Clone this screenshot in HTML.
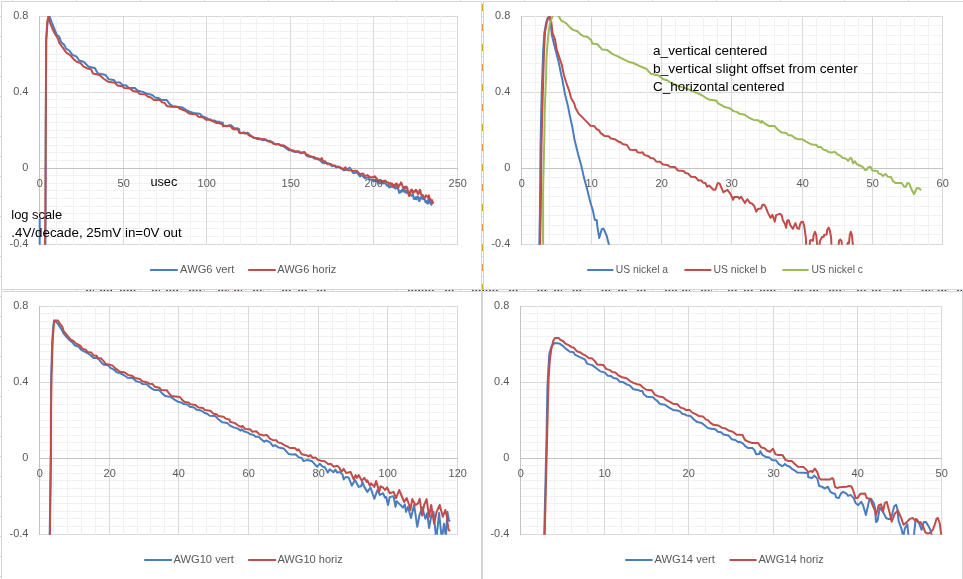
<!DOCTYPE html>
<html lang="en"><head><meta charset="utf-8"><title>Decay curves</title>
<style>html,body{margin:0;padding:0;background:#fff;overflow:hidden}svg{display:block}text{font-family:"Liberation Sans", sans-serif}</style>
</head><body>
<svg width="963" height="579" viewBox="0 0 963 579">
<rect width="963" height="579" fill="#fff"/>
<path d="M12.5 0V1M12.5 290V291M76.5 0V1M76.5 290V291M140.5 0V1M140.5 290V291M204.5 0V1M204.5 290V291M268.5 0V1M268.5 290V291M332.5 0V1M332.5 290V291M396.5 0V1M396.5 290V291M460.5 0V1M460.5 290V291M524.5 0V1M524.5 290V291M588.5 0V1M588.5 290V291M652.5 0V1M652.5 290V291M716.5 0V1M716.5 290V291M780.5 0V1M780.5 290V291M844.5 0V1M844.5 290V291M908.5 0V1M908.5 290V291M0 16.5H1M482 16.5H483M0 36.5H1M482 36.5H483M0 56.5H1M482 56.5H483M0 76.5H1M482 76.5H483M0 96.5H1M482 96.5H483M0 116.5H1M482 116.5H483M0 136.5H1M482 136.5H483M0 156.5H1M482 156.5H483M0 176.5H1M482 176.5H483M0 196.5H1M482 196.5H483M0 216.5H1M482 216.5H483M0 236.5H1M482 236.5H483M0 256.5H1M482 256.5H483M0 276.5H1M482 276.5H483M0 296.5H1M0 316.5H1M0 336.5H1M0 356.5H1M0 376.5H1M0 396.5H1M0 416.5H1M0 436.5H1M0 456.5H1M0 476.5H1M0 496.5H1M0 516.5H1M0 536.5H1M0 556.5H1M0 576.5H1" stroke="#D4D4D4" fill="none"/>
<path d="M1.5 290V1.5H481.5V289.5H1M964 1.5H483.5V289.5H964M1.5 580V291.5H481.5V580M482.5 580V291.5H962.5V580" stroke="#D4D4D4" fill="none"/>
<path d="M482.5 4V290" stroke="#E9A13B" stroke-width="1.1" stroke-dasharray="7 13" fill="none"/>
<path d="M86 290.5H94M100 290.5H112.6M120 290.5H137M152 290.5H160M166 290.5H178M189 290.5H201M218 290.5H229M234 290.5H242M253 290.5H263.5M282 290.5H292M298 290.5H306.6M317 290.5H327M408 290.5H434M445 290.5H455M472 290.5H498M509 290.5H519M537.5 290.5H548M554 290.5H562M572.6 290.5H583M601.6 290.5H612M618 290.5H626.6M637 290.5H647M665 290.5H676.7M682 290.5H690M701 290.5H712M728 290.5H738M744 290.5H752.5M760 290.5H777M794 290.5H804.6M809.6 290.5H818M829 290.5H841.6M857 290.5H867M872 290.5H882M893 290.5H903M921.7 290.5H932.7M937.7 290.5H946.5M957 290.5H963" stroke="#A8601E" stroke-dasharray="1.1 2.3" fill="none"/>
<path d="M86 290.5H94M100 290.5H112.6M120 290.5H137M152 290.5H160M166 290.5H178M189 290.5H201M218 290.5H229M234 290.5H242M253 290.5H263.5M282 290.5H292M298 290.5H306.6M317 290.5H327M408 290.5H434M445 290.5H455M472 290.5H498M509 290.5H519M537.5 290.5H548M554 290.5H562M572.6 290.5H583M601.6 290.5H612M618 290.5H626.6M637 290.5H647M665 290.5H676.7M682 290.5H690M701 290.5H712M728 290.5H738M744 290.5H752.5M760 290.5H777M794 290.5H804.6M809.6 290.5H818M829 290.5H841.6M857 290.5H867M872 290.5H882M893 290.5H903M921.7 290.5H932.7M937.7 290.5H946.5M957 290.5H963" stroke="#1C1C70" stroke-dasharray="1 2.4" stroke-dashoffset="-0.7" fill="none"/>
<clipPath id="c1"><rect x="37.5" y="16" width="422" height="228.7"/></clipPath>
<path d="M39 16.5H458M39 92.5H458M39 244.5H458" stroke="#D9D9D9" fill="none"/>
<path d="M39.5 23.5H457.5M39.5 31.5H457.5M39.5 38.5H457.5M39.5 46.5H457.5M39.5 54.5H457.5M39.5 61.5H457.5M39.5 69.5H457.5M39.5 76.5H457.5M39.5 84.5H457.5M39.5 99.5H457.5M39.5 107.5H457.5M39.5 114.5H457.5M39.5 122.5H457.5M39.5 130.5H457.5M39.5 137.5H457.5M39.5 145.5H457.5M39.5 152.5H457.5M39.5 160.5H457.5M39.5 175.5H457.5M39.5 183.5H457.5M39.5 190.5H457.5M39.5 198.5H457.5M39.5 206.5H457.5M39.5 213.5H457.5M39.5 221.5H457.5M39.5 228.5H457.5M39.5 236.5H457.5" stroke="#F1F1F1" fill="none"/>
<path d="M123.5 16V245M206.5 16V245M290.5 16V245M373.5 16V245M457.5 16V245" stroke="#D9D9D9" fill="none"/>
<path d="M56.5 16V245M73.5 16V245M89.5 16V245M106.5 16V245M139.5 16V245M156.5 16V245M173.5 16V245M190.5 16V245M223.5 16V245M240.5 16V245M256.5 16V245M273.5 16V245M307.5 16V245M323.5 16V245M340.5 16V245M357.5 16V245M390.5 16V245M407.5 16V245M424.5 16V245M440.5 16V245" stroke="#F1F1F1" fill="none"/>
<path d="M39.5 16V245M39.5 168.5H458" stroke="#C3C3C3" fill="none"/>
<path d="M39.7 218.6L39.7 300L45.2 300L45.5 215L45.8 120L46.2 40L47.6 22L49.5 16.3L51.8 22.5L54.3 28.7L56.8 34.9L59.3 36.8L61.2 42.4L64.3 44.9L66.1 48.6L69.3 50.5L72.4 54.9L76.7 56.7L79.2 60.5L83.6 61.7L88.6 66.7L94.8 68L97.9 73.6L100 73.7L105.6 75L108.7 79.3L113.7 79.9L115.6 82.2L119.9 82.4L122.4 84.9L126.2 85.5L128.7 87.7L134.9 88L137.4 90.5L143.6 92.1L146.1 93.6L152.3 94.9L154.8 97.4L158.6 98L161.1 99.9L166.7 100.1L169.8 104.2L172.3 105.9L177.3 106.7L182.2 107.4L186 109.8L189.7 111.7L193.5 113L199.7 113.8L202.2 116.3L205.9 117.6L208.8 119.3L210.6 119.5L212.3 120.6L214.1 120.5L215.8 121.2L217.6 121.8L219.3 121.8L221.1 122.6L222.8 122.7L223.1 126.3L225.1 125.8L227.1 126.2L229.2 125.3L231.2 125.3L233.6 127.6L235.4 128.4L237.2 128.2L239 128.9L239.7 132.9L241.7 133.3L243.8 132.5L245.8 133.1L247.8 132.8L250.4 135.4L253.6 137.9L255.5 138L257.3 139.2L259.2 139.3L261 139.3L262.9 140.3L264.7 139.7L266.5 140.5L268 141.1L269.5 140.6L271 141.4L274.2 143.4L276.1 144.4L277.9 144L279.8 145L281.3 146L282.8 146L284.3 146.9L287.1 149L289 150.3L290.9 150.1L292.8 151.4L295 152L297.2 151.8L298.7 152L300.2 153.1L301.7 153.2L303.5 152.6L305.3 153L306.3 155.5L308.4 156.5L310.6 156.2L312.7 157.5L314.7 158.7L316.6 158.5L318.6 159.5L320 160.3L322.5 162.8L324.2 163.3L326 162.7L328 163.3L330 164.7L332.1 166.3L334.1 165.8L336.2 167.4L339 166.7L340.6 168.4L342.1 168.5L343.7 170.2L346.5 169.7L349.9 167.7L351.8 171.1L353.6 173.3L356 172.2L357.9 173.7L359.9 176.5L362 175.2L364.9 178.3L368 177.2L369.9 179.4L371.7 179.7L373.6 181.4L374.4 180.4L375.2 181.1L376 179.7L376.6 180.1L377.3 182L377.9 182.1L378.5 182.1L379.2 183.5L379.8 183.4L380.6 182.2L381.4 183.6L382.2 182.1L383 182.7L383.8 183.5L384.6 182.9L385.4 183.2L386.3 184.9L387.1 185.9L387.9 185.3L388.5 185.3L389.2 187.6L389.8 187.2L390.5 186.1L391.3 186.9L392 185.7L392.7 185.7L393.4 187.5L394.1 186.4L394.8 187.8L395.5 188.7L396.3 186.2L397 186.7L397.7 188.9L398.4 189L399.1 192.7L399.8 192.8L400.6 191.1L401.4 191.9L402.2 189.7L402.8 189.1L403.4 191.6L404 190.7L404.7 190L405.3 192.5L406 191.5L406.6 190.7L407.2 193.3L407.9 192.4L408.5 191.6L409.1 195.1L409.7 194.6L410.5 194L411.4 195.8L412.2 195.3L413 194.9L413.9 199L414.7 199L415.5 197.2L416.4 199.1L417.2 196.5L418 196.6L418.9 201L419.7 200.9L420.3 197.5L421 198.7L421.6 195.9L422.4 195.5L423.1 199.3L423.9 197.3L424.7 199L425.5 202.2L426.4 201L427.2 203.4L427.8 203.6L428.4 198.8L429 199L429.6 202.8L430.3 200.5L430.9 204.2L431.5 204.8L432.2 201.3L432.8 201.5" fill="none" stroke="#4A7DBF" stroke-width="2.0" stroke-linejoin="round" stroke-linecap="butt" clip-path="url(#c1)"/>
<path d="M45 246L45.4 215L45.8 120L46.2 40L47.2 22L48.3 16.6L49.9 22.5L52.4 28.7L54.9 33.7L58 38.7L59.3 43L62.6 47.4L66.1 52.4L70.5 55.5L73.6 59.2L76.7 61.7L80.5 63L83.6 66.7L86.7 68.2L91.1 69.2L92.9 73.6L98.5 74.8L100 75.6L103.7 78.7L108.1 81.8L115 82.7L117.4 85.5L122.4 86.2L124.3 88L129.9 88.4L133 90.9L137.4 91.8L139.9 93.9L144.9 94.3L148 96.8L151.1 97.4L153.6 99.9L159.8 100.1L162.3 102.4L164.8 103L166.7 105.9L171 106.7L177.9 107.1L179.8 108.8L184.7 110.5L187.2 112.1L189.7 113.8L195.9 114.2L198.4 116.7L203.4 117.6L205.9 119.8L207.9 119.6L210 119.9L211.7 121L213.3 121.2L215 122.4L216.7 123.1L218.4 122.7L220.1 123.7L221.8 123.7L223.1 125.9L225 125.8L226.8 126.3L228.7 125.7L230.6 126.2L232.4 128.7L234.3 129.4L236.1 129L238 129.7L239.3 132.6L241.2 133L243.1 132.7L244.9 133.5L246.8 133.4L249.9 135.9L251.8 136.3L253.6 137.4L255.7 138.2L257.7 138L259.8 138.6L261.9 139.2L264 139L266.1 139.6L268 141.2L269.8 141.7L271.7 142.3L273.6 143.9L275.7 144.4L277.7 143.9L279.8 144.6L281.5 145.4L283.1 145.2L284.8 146.1L287.9 148L290 149.5L292.2 150.5L293.9 150.5L295.5 151.6L297.2 151.3L298.9 151.4L300.5 152.5L302.2 152.6L304.7 152.1L306 154.8L308.1 154.8L310.1 156.7L312.2 156.7L314.3 157L316.3 158.6L318.4 158.6L320 159.9L321.9 158.1L323.1 161.8L325 161.2L327.5 164.3L329.4 163.8L331.2 164.3L333.1 165.5L335 165.5L336.2 166.8L338 166.6L339.9 167.2L343.1 169.3L345.5 167.2L346.8 169.9L349 170.6L351.2 169.9L353 171.2L355.2 170.6L357.4 171.2L359.9 174.3L363 173.4L364.9 176.1L367.4 175.1L369.8 177.1L372.3 177.4L373.1 176.8L373.9 177.5L374.7 176.3L375.5 176.8L376.1 178.2L376.7 178.2L377.3 179.9L378.1 181.2L379 181.3L379.8 180.4L380.6 180.3L381.5 181.7L382.3 181.7L383.1 180.9L384 181.6L384.8 180.5L385.6 180.7L386.5 182.4L387.3 182.6L388 182.2L388.8 184.2L389.5 183.5L390.2 182.9L391 184.1L391.7 183.4L392.3 183.6L392.9 186.8L393.5 186.7L394.3 184.7L395.2 185.4L396 183.6L396.8 183.6L397.7 186.7L398.5 187.4L399.3 184.5L400.2 184.8L401 182.4L401.8 183.6L402.7 186.8L403.5 188L404.1 186.9L404.7 188.7L405.4 187.1L406 186.5L406.6 188.4L407.2 187.4L409.1 196.1L411 189.8L411.8 189.6L412.7 192.9L413.5 193L414.3 190.8L415.1 191.6L415.9 189.8L416.7 190.5L417.6 193.6L418.4 194.2L419.7 189.8L420.3 190.1L421 194.3L421.6 194.8L422.5 194.7L423.4 196.7L424.2 198.2L425.1 197.1L425.9 195.3L426.7 196L427.6 197.2L428.4 196.3L429 195.4L429.7 199.4L430.3 198.6L431.5 201.1L432.1 200.2L432.8 203L433.4 201.7" fill="none" stroke="#C04D4A" stroke-width="2.0" stroke-linejoin="round" stroke-linecap="butt" clip-path="url(#c1)"/>
<text x="13.21" y="19" font-size="10.9" fill="#595959" textLength="15.19" lengthAdjust="spacingAndGlyphs">0.8</text>
<text x="13.21" y="95" font-size="10.9" fill="#595959" textLength="15.19" lengthAdjust="spacingAndGlyphs">0.4</text>
<text x="22.32" y="171" font-size="10.9" fill="#595959" textLength="6.08" lengthAdjust="spacingAndGlyphs">0</text>
<text x="9.53" y="247" font-size="10.9" fill="#595959" textLength="18.87" lengthAdjust="spacingAndGlyphs">-0.4</text>
<text x="36.66" y="186.8" font-size="10.9" fill="#595959" textLength="6.08" lengthAdjust="spacingAndGlyphs">0</text>
<text x="117.62" y="186.8" font-size="10.9" fill="#595959" textLength="12.16" lengthAdjust="spacingAndGlyphs">50</text>
<text x="197.58" y="186.8" font-size="10.9" fill="#595959" textLength="18.25" lengthAdjust="spacingAndGlyphs">100</text>
<text x="281.58" y="186.8" font-size="10.9" fill="#595959" textLength="18.25" lengthAdjust="spacingAndGlyphs">150</text>
<text x="364.58" y="186.8" font-size="10.9" fill="#595959" textLength="18.25" lengthAdjust="spacingAndGlyphs">200</text>
<text x="448.58" y="186.8" font-size="10.9" fill="#595959" textLength="18.25" lengthAdjust="spacingAndGlyphs">250</text>
<path d="M150.8 270H177" stroke="#4A7DBF" stroke-width="2" stroke-linecap="round"/>
<text x="180.10" y="272.8" font-size="10.9" fill="#595959" textLength="54.19" lengthAdjust="spacingAndGlyphs">AWG6 vert</text>
<path d="M248.9 270H275" stroke="#C04D4A" stroke-width="2" stroke-linecap="round"/>
<text x="277.20" y="272.8" font-size="10.9" fill="#595959" textLength="59.14" lengthAdjust="spacingAndGlyphs">AWG6 horiz</text>
<clipPath id="c2"><rect x="519.5" y="16" width="425" height="228.7"/></clipPath>
<path d="M521 16.5H943M521 92.5H943M521 244.5H943" stroke="#D9D9D9" fill="none"/>
<path d="M521.5 25.5H942.5M521.5 35.5H942.5M521.5 44.5H942.5M521.5 54.5H942.5M521.5 63.5H942.5M521.5 73.5H942.5M521.5 82.5H942.5M521.5 101.5H942.5M521.5 111.5H942.5M521.5 120.5H942.5M521.5 130.5H942.5M521.5 139.5H942.5M521.5 149.5H942.5M521.5 158.5H942.5M521.5 177.5H942.5M521.5 187.5H942.5M521.5 196.5H942.5M521.5 206.5H942.5M521.5 215.5H942.5M521.5 225.5H942.5M521.5 234.5H942.5" stroke="#F1F1F1" fill="none"/>
<path d="M591.5 16V245M661.5 16V245M731.5 16V245M802.5 16V245M872.5 16V245M942.5 16V245" stroke="#D9D9D9" fill="none"/>
<path d="M535.5 16V245M549.5 16V245M563.5 16V245M577.5 16V245M605.5 16V245M619.5 16V245M633.5 16V245M647.5 16V245M675.5 16V245M689.5 16V245M703.5 16V245M717.5 16V245M745.5 16V245M759.5 16V245M774.5 16V245M788.5 16V245M816.5 16V245M830.5 16V245M844.5 16V245M858.5 16V245M886.5 16V245M900.5 16V245M914.5 16V245M928.5 16V245" stroke="#F1F1F1" fill="none"/>
<path d="M521.5 16V245M521.5 168.5H943" stroke="#C3C3C3" fill="none"/>
<path d="M539.3 246L539.9 212L540.5 147L541.2 112L541.9 87L542.5 70L543.2 50L544.4 32.4L546.2 22.5L547.6 18.1L549.3 16.7L550.5 21.2L551.8 35L554.9 47.4L558.7 62.3L561.2 74.8L562.4 80L564.9 93.7L568 106.2L569.9 116.1L572.4 127.3L574.6 140L578 153.7L581.1 164.9L584.2 178.6L587.3 189.8L590.4 202.5L592.9 210.6L594.8 219.9L596.7 219.9L597.3 226.1L599.2 238L601.7 229.3L603.5 228.6L606.6 235.5L609.3 246" fill="none" stroke="#4A7DBF" stroke-width="2.0" stroke-linejoin="round" stroke-linecap="butt" clip-path="url(#c2)"/>
<path d="M540.1 246L540.8 212L541.5 147L542.3 112L543 87L543.5 70L544.1 50L545 32.4L546.8 22.5L548.1 18.1L549.9 16.9L551.2 21.2L552.6 33L554.9 39L556.8 49.9L559.3 57.4L561.8 64.8L563.9 75L566.2 82.5L569.3 91.2L571.1 98.1L574.3 103.7L575.5 108L578.6 113.6L582.4 117.4L587.3 122.4L590.5 125.8L594.2 126.1L596.7 129.2L599.2 130.5L600.4 132.9L604.8 136.1L608.5 136.3L611 138.6L614.7 139.2L619.7 142.3L620 141.8L622.5 144L626.9 145L630 149.7L636.2 149.9L637.4 152.2L640.6 152.7L642.4 152.2L644.3 154.9L648.7 156.2L650.5 158L653.6 158.4L656.1 161.4L659.9 161.8L663 164.6L667.4 164.9L669.8 166.8L674.8 166.9L677.9 170.5L683.6 170.9L685.4 173L687.9 173.4L691 176.7L695.4 177.1L698.5 180.5L701.6 180.5L702.6 182.4L705.4 183L707.2 186.7L709.1 185.5L713.5 189.8L715.3 189.8L717.8 183L719.7 183.6L723.4 192.3L725 191.1L727.5 189.8L730.6 194.2L733.1 199.8L734.3 196.9L738.1 196.9L739.3 198.6L741.2 196.7L744.9 202.9L747.4 199.2L749.9 202.9L751.8 203.5L754.3 206L756.2 211.6L758 208.9L761.1 208.5L762.4 204.8L764.3 204.8L765.5 206.7L768 212.9L770.5 217.9L772.4 214.8L774.8 221.6L776.1 215.1L779.8 213.9L781.7 215.1L782.9 220.4L784.8 223.5L786.1 227.8L787.3 220.4L788.6 220.1L790.4 225.4L792.9 228.8L795.4 223.1L797.3 228.5L799.1 228.8L800 224.5L801.2 222L802.9 221.8L804.2 225.8L805.8 237.4L806.4 250L809.4 250L810 240.7L810.8 239.9L812.9 240.9L813.7 234.9L815 231.8L816.2 234.9L817.6 250L818.9 250L819.9 241.1L822 237L823.7 236.7L824.1 234.9L826.6 234.5L827.2 229.9L828.7 227.6L829.9 230.8L831.1 237.4L831.6 250L838.4 250L839 240.7L840.3 239.5L841.5 241.1L842.7 250L846.3 250L847.8 242.8L849 243.2L849.8 234.9L850.8 231.8L851.9 234.9L853.4 250" fill="none" stroke="#C04D4A" stroke-width="2.0" stroke-linejoin="round" stroke-linecap="butt" clip-path="url(#c2)"/>
<path d="M543.1 246L543.1 190L544.3 140L544.7 112L545.6 87.5L546.2 75L546.4 59.8L547.4 44.9L548.7 31.2L549.9 23.7L551.8 18.1L553.3 15L556 13.5L558.7 16.2L561.2 20.6L566.1 23.1L569.9 27.4L573 29.9L577.4 31.2L581.1 34.9L583.6 36.2L587.3 36.8L591.1 39.9L592.3 43.6L597.3 44.3L602.3 49.6L607.3 50.1L612.2 53.9L617.2 56.1L622.2 58.6L628.4 61.7L633.4 63L638.4 65.5L640 66.2L646.2 68.7L650.6 73.7L658.7 75.5L663.1 79.3L666.8 80.2L671.2 83L677.4 85.5L682.4 87.4L687.4 88.9L692.3 91.1L698.6 93.6L702.3 95.5L706 98L709.8 99.8L716 100.5L718.5 103.6L722.2 105.5L724.7 107.1L729.1 107.9L733.5 111.1L737.2 112.1L739.7 113.8L744.7 114.8L749.7 118.3L750 118.1L753.7 119.9L758.1 120.2L761.2 122.7L761.8 120.9L765 123.7L768.7 125.9L774.3 125.9L778 129.7L781.8 132.6L786.1 133L788 134.9L791.7 135.5L794.9 138L798 139.3L802.3 139.3L806.1 141.7L809.8 143.6L812.3 144.6L816.7 144.9L817.9 147.1L821 147.1L823.5 149.6L826.6 150.5L828.5 152.1L831.6 152.6L834.7 151.7L837.2 154.2L840 155.6L842.5 157.7L845.6 158.4L848.1 160.9L850.6 157.7L851.8 158.7L853.1 163.4L855 161.2L856.8 164.3L859.9 165.5L863.1 167.2L864.9 169.9L866.8 169.7L868 167.4L870.5 166.8L872.4 170.5L877.4 170.9L878.6 173.4L881.1 174.3L883 176.1L885.5 173.9L888 176.8L891.1 177.1L893 181.1L895.5 183L901.7 183L904.2 186.7L906 186.7L907.3 183L909.2 183.4L911.7 189.8L914.1 194.2L916.6 188.3L918.5 188L921.2 190.1" fill="none" stroke="#9BBB59" stroke-width="2.0" stroke-linejoin="round" stroke-linecap="butt" clip-path="url(#c2)"/>
<text x="495.11" y="19" font-size="10.9" fill="#595959" textLength="15.19" lengthAdjust="spacingAndGlyphs">0.8</text>
<text x="495.11" y="95" font-size="10.9" fill="#595959" textLength="15.19" lengthAdjust="spacingAndGlyphs">0.4</text>
<text x="504.22" y="171" font-size="10.9" fill="#595959" textLength="6.08" lengthAdjust="spacingAndGlyphs">0</text>
<text x="491.43" y="247" font-size="10.9" fill="#595959" textLength="18.87" lengthAdjust="spacingAndGlyphs">-0.4</text>
<text x="518.66" y="186.8" font-size="10.9" fill="#595959" textLength="6.08" lengthAdjust="spacingAndGlyphs">0</text>
<text x="585.62" y="186.8" font-size="10.9" fill="#595959" textLength="12.16" lengthAdjust="spacingAndGlyphs">10</text>
<text x="655.62" y="186.8" font-size="10.9" fill="#595959" textLength="12.16" lengthAdjust="spacingAndGlyphs">20</text>
<text x="725.62" y="186.8" font-size="10.9" fill="#595959" textLength="12.16" lengthAdjust="spacingAndGlyphs">30</text>
<text x="796.62" y="186.8" font-size="10.9" fill="#595959" textLength="12.16" lengthAdjust="spacingAndGlyphs">40</text>
<text x="866.62" y="186.8" font-size="10.9" fill="#595959" textLength="12.16" lengthAdjust="spacingAndGlyphs">50</text>
<text x="936.62" y="186.8" font-size="10.9" fill="#595959" textLength="12.16" lengthAdjust="spacingAndGlyphs">60</text>
<path d="M588 270H612.7" stroke="#4A7DBF" stroke-width="2" stroke-linecap="round"/>
<text x="615.80" y="272.8" font-size="10.9" fill="#595959" textLength="52.32" lengthAdjust="spacingAndGlyphs">US nickel a</text>
<path d="M685.2 270H710.5" stroke="#C04D4A" stroke-width="2" stroke-linecap="round"/>
<text x="713.40" y="272.8" font-size="10.9" fill="#595959" textLength="52.87" lengthAdjust="spacingAndGlyphs">US nickel b</text>
<path d="M783.1 270H807.8" stroke="#9BBB59" stroke-width="2" stroke-linecap="round"/>
<text x="811.40" y="272.8" font-size="10.9" fill="#595959" textLength="51.64" lengthAdjust="spacingAndGlyphs">US nickel c</text>
<clipPath id="c3"><rect x="37.5" y="306" width="422" height="228.7"/></clipPath>
<path d="M39 306.5H458M39 382.5H458M39 534.5H458" stroke="#D9D9D9" fill="none"/>
<path d="M39.5 313.5H457.5M39.5 321.5H457.5M39.5 328.5H457.5M39.5 336.5H457.5M39.5 344.5H457.5M39.5 351.5H457.5M39.5 359.5H457.5M39.5 366.5H457.5M39.5 374.5H457.5M39.5 389.5H457.5M39.5 397.5H457.5M39.5 404.5H457.5M39.5 412.5H457.5M39.5 420.5H457.5M39.5 427.5H457.5M39.5 435.5H457.5M39.5 442.5H457.5M39.5 450.5H457.5M39.5 465.5H457.5M39.5 473.5H457.5M39.5 480.5H457.5M39.5 488.5H457.5M39.5 496.5H457.5M39.5 503.5H457.5M39.5 511.5H457.5M39.5 518.5H457.5M39.5 526.5H457.5" stroke="#F1F1F1" fill="none"/>
<path d="M109.5 306V535M178.5 306V535M248.5 306V535M318.5 306V535M387.5 306V535M457.5 306V535" stroke="#D9D9D9" fill="none"/>
<path d="M53.5 306V535M67.5 306V535M81.5 306V535M95.5 306V535M123.5 306V535M137.5 306V535M150.5 306V535M164.5 306V535M192.5 306V535M206.5 306V535M220.5 306V535M234.5 306V535M262.5 306V535M276.5 306V535M290.5 306V535M304.5 306V535M332.5 306V535M346.5 306V535M359.5 306V535M373.5 306V535M401.5 306V535M415.5 306V535M429.5 306V535M443.5 306V535" stroke="#F1F1F1" fill="none"/>
<path d="M39.5 306V535M39.5 458.5H458" stroke="#C3C3C3" fill="none"/>
<path d="M49.7 536L50.3 490L50.8 452L50.9 410L51.2 377L52.2 342.4L53.2 327.4L53.9 321.8L56.2 321.8L58.7 324.9L61.8 329.9L63.7 333.7L66.8 337.4L69.3 339.9L72.4 342.4L74.9 345.5L78.6 346.7L81.1 349.9L83.6 351.1L87.4 353L89.8 354.8L93.6 358L96.7 358L99.2 359.8L102.3 363.6L104.2 364.8L107.9 365.1L110.4 367.9L114.1 369.8L116.6 372.3L120 373.1L123.7 375L127.5 377.7L132.5 378.1L136.2 381.2L140.6 382.4L142.4 383.9L146.8 384.3L149.3 386.8L153.6 389.7L159.3 390.2L162.4 393.6L165.5 396.1L171.1 397.1L174.8 399.9L177.9 401.7L181.1 402.4L183.6 403.9L187.3 404.6L189.8 406.7L194.1 407.6L196.6 409.8L201 410.5L204.7 413L207.2 413.8L209.7 415.8L215.3 416.1L218.4 419.2L222.2 422.3L227.2 422.9L230 425.6L233.7 427.4L237.5 428.4L240.6 430.6L241.8 429.3L243.7 431.2L247.4 432.4L250.6 434.3L253.7 434.9L255.5 436.8L258.7 436.8L261.2 439.3L264.3 441.8L266.1 440.5L269.9 442.1L273 446.1L274.9 445.1L278.6 447.4L283.6 448.4L286.1 451.1L288.6 453.9L292.3 454.6L295.4 454.2L298.5 457.1L301.7 458L303.5 461.1L306.6 460.1L309.8 460.5L312.2 461.3L314.7 464.2L317.2 466.7L319.7 463.8L322.8 466.7L324.7 467.1L327.8 472.6L329.7 469.2L333.4 472.3L335.3 469.6L337.2 472.6L340 472L342.5 474.5L343.7 479.4L345.6 477L348.7 477.6L351.8 485.7L355 480.1L358.7 486.9L361.2 486.3L362.4 481.9L364.3 486.9L367.4 491.9L370.5 487.5L374.3 498.8L377.4 490L379.9 495L383 493.2L384.9 497.5L386.1 497L388 505L389.8 496.9L393.6 496.3L395.5 506.9L396.7 501.3L399.8 504.4L402.9 507.5L404.8 504.4L406 511.8L407.9 506.9L411 518.1L414.1 505L417.3 526.8L419.7 514.3L422.2 507.5L425.4 518.7L427.2 513.1L429.1 528L431.6 514.3L433.5 511.8L436 537L436.6 537L439.1 513.1L441.6 537L442.2 537L444 523.7L445.9 537L447.4 511.8L449 520.6L450.3 521.2" fill="none" stroke="#4A7DBF" stroke-width="2.0" stroke-linejoin="round" stroke-linecap="butt" clip-path="url(#c3)"/>
<path d="M49.9 536L50.5 490L51 452L51.1 410L51.5 377L52.6 342.4L53.6 327.4L54.1 320.6L58.1 320.6L59.9 323.7L62.4 326.8L63.7 331.2L66.8 334.9L70.5 339.3L73.6 341.1L76.1 343.6L79.9 345.5L82.4 348.6L86.1 349.9L87.4 352.1L91.1 352.4L93.6 355.5L96.7 355.8L97.9 358L101.1 358.3L103.6 361.1L105.4 363.6L112.3 365.4L114.8 367.9L119.8 371.7L120 371.8L125 372.5L128.1 375L132.5 376L135 378.1L139.9 378.9L142.4 381.2L146.8 382.2L149.3 383.7L152.4 383.9L154.9 386.8L159.3 387.7L161.1 389.9L166.7 390.2L169.2 393.6L171.7 396.1L179.8 397.1L182.3 399.9L184.8 402.1L188.5 402.4L190.4 404.2L195.4 404.9L198.5 407.6L202.9 408L204.7 410.1L210.3 410.8L213.5 413.8L216.6 414.2L218.4 416.1L223.4 416.7L225.9 418.6L229.7 419.8L230 421.8L235 423.1L237.5 425L240.6 426.8L242.5 426L245 428.9L249.9 429.3L252.4 431.8L256.2 431.2L259.3 434.3L263.6 435.5L266.8 434.9L269.9 438.7L272.4 439.9L276.1 440.2L278 442.4L281.7 443.4L284.8 445.5L287.3 446.4L289.8 448L294.8 448L297.3 450.5L298.5 449.3L301.7 454.2L307.3 455.5L308.5 456.4L310.4 455.1L312.9 458L315.4 457.4L317.8 459.8L322.2 461.1L324.7 461.3L328.4 464.2L330.9 463.8L333.4 466.7L337.2 465.8L339.7 467.9L340 469.5L341.9 471.3L343.7 468.9L346.2 473L350.6 472L353.7 479.4L355.6 475.1L356.8 477.9L358.7 475.1L361.8 480.7L364.3 477.9L366.8 481.9L367.4 480.4L369.9 485.7L371.2 483.4L374.3 486.9L376.1 480.9L379.3 491.9L380.5 486.3L383 487.5L384.9 490L387.1 487.5L389.8 493.2L393.6 491.9L396.1 498.1L399.2 490L402.3 497.5L404.2 501.9L406.7 498.1L409.2 505L410.4 510L412.3 499.1L415.4 505L417.9 503.7L419.7 498.8L422.2 515.6L424.1 505L426.6 499.1L429.1 516.8L431.2 505L434.1 523.7L436.6 511.8L439.7 505L442.8 516.8L445.3 510L446.9 516.8L448.4 529.3L450 531.2" fill="none" stroke="#C04D4A" stroke-width="2.0" stroke-linejoin="round" stroke-linecap="butt" clip-path="url(#c3)"/>
<text x="13.21" y="309" font-size="10.9" fill="#595959" textLength="15.19" lengthAdjust="spacingAndGlyphs">0.8</text>
<text x="13.21" y="385" font-size="10.9" fill="#595959" textLength="15.19" lengthAdjust="spacingAndGlyphs">0.4</text>
<text x="22.32" y="461" font-size="10.9" fill="#595959" textLength="6.08" lengthAdjust="spacingAndGlyphs">0</text>
<text x="9.53" y="537" font-size="10.9" fill="#595959" textLength="18.87" lengthAdjust="spacingAndGlyphs">-0.4</text>
<text x="36.66" y="476.8" font-size="10.9" fill="#595959" textLength="6.08" lengthAdjust="spacingAndGlyphs">0</text>
<text x="103.62" y="476.8" font-size="10.9" fill="#595959" textLength="12.16" lengthAdjust="spacingAndGlyphs">20</text>
<text x="172.62" y="476.8" font-size="10.9" fill="#595959" textLength="12.16" lengthAdjust="spacingAndGlyphs">40</text>
<text x="242.62" y="476.8" font-size="10.9" fill="#595959" textLength="12.16" lengthAdjust="spacingAndGlyphs">60</text>
<text x="312.62" y="476.8" font-size="10.9" fill="#595959" textLength="12.16" lengthAdjust="spacingAndGlyphs">80</text>
<text x="378.58" y="476.8" font-size="10.9" fill="#595959" textLength="18.25" lengthAdjust="spacingAndGlyphs">100</text>
<text x="448.58" y="476.8" font-size="10.9" fill="#595959" textLength="18.25" lengthAdjust="spacingAndGlyphs">120</text>
<path d="M145 560H171.2" stroke="#4A7DBF" stroke-width="2" stroke-linecap="round"/>
<text x="173.40" y="562.8" font-size="10.9" fill="#595959" textLength="60.42" lengthAdjust="spacingAndGlyphs">AWG10 vert</text>
<path d="M248.9 560H275.3" stroke="#C04D4A" stroke-width="2" stroke-linecap="round"/>
<text x="277.40" y="562.8" font-size="10.9" fill="#595959" textLength="65.38" lengthAdjust="spacingAndGlyphs">AWG10 horiz</text>
<clipPath id="c4"><rect x="518.5" y="306" width="425" height="228.7"/></clipPath>
<path d="M520 306.5H942M520 382.5H942M520 534.5H942" stroke="#D9D9D9" fill="none"/>
<path d="M520.5 313.5H941.5M520.5 321.5H941.5M520.5 328.5H941.5M520.5 336.5H941.5M520.5 344.5H941.5M520.5 351.5H941.5M520.5 359.5H941.5M520.5 366.5H941.5M520.5 374.5H941.5M520.5 389.5H941.5M520.5 397.5H941.5M520.5 404.5H941.5M520.5 412.5H941.5M520.5 420.5H941.5M520.5 427.5H941.5M520.5 435.5H941.5M520.5 442.5H941.5M520.5 450.5H941.5M520.5 465.5H941.5M520.5 473.5H941.5M520.5 480.5H941.5M520.5 488.5H941.5M520.5 496.5H941.5M520.5 503.5H941.5M520.5 511.5H941.5M520.5 518.5H941.5M520.5 526.5H941.5" stroke="#F1F1F1" fill="none"/>
<path d="M604.5 306V535M688.5 306V535M773.5 306V535M857.5 306V535M941.5 306V535" stroke="#D9D9D9" fill="none"/>
<path d="M537.5 306V535M554.5 306V535M571.5 306V535M587.5 306V535M621.5 306V535M638.5 306V535M655.5 306V535M672.5 306V535M705.5 306V535M722.5 306V535M739.5 306V535M756.5 306V535M789.5 306V535M806.5 306V535M823.5 306V535M840.5 306V535M874.5 306V535M890.5 306V535M907.5 306V535M924.5 306V535" stroke="#F1F1F1" fill="none"/>
<path d="M520.5 306V535M520.5 458.5H942" stroke="#C3C3C3" fill="none"/>
<path d="M544.2 536L546.6 434L547.4 387.3L548.3 370L549.3 353.7L551.5 346.5L554.3 343.1L559.3 343.4L562.4 345.6L566.1 348.9L569.9 351.8L573.6 352.2L574.9 354.7L579.8 357.1L584.8 359.3L587.3 363.9L592.3 365.1L596 368L599.8 371.1L604.8 372.6L607.9 375.8L611 376.1L613.5 378L617.2 378.8L619.7 381.7L623.5 382.3L627.2 384.6L629.7 385.4L633.4 389.2L638.4 390L640 391L642.5 391L643.7 394.3L646.9 396.8L653.1 397.2L655 399.3L656.8 400.5L659.9 403.9L664.9 404.7L668.7 407.4L673 409.9L677.4 410.5L679.9 411.4L682.4 413.9L684.9 414.3L686.7 415.5L690.5 415.9L693.6 419.2L697.3 422.1L701.7 423L704.8 425.5L707.9 428L711 428.8L715.4 429.2L717.9 431.7L721 432.3L723.5 434.6L728.5 435.4L731.6 439.2L735.3 440L738.4 442.3L740 441.8L743.1 443.7L745 445.9L748.1 448.1L752.5 448.1L754.3 449.9L756.2 454.3L759.3 453.9L760.3 451.2L762.4 454.9L766.2 457.1L769.3 457.4L771.8 459.9L776.1 460.5L778.6 463.9L781.7 465.9L783 465.9L784.9 463.9L786.7 465.5L789.8 466.7L792.3 469.2L795.4 470.9L797.3 472.6L807.9 473L808.3 477.3L812.3 478L814.1 475.5L817.3 478.6L819.1 486.1L822.2 486.7L824.7 488.6L827.9 486.7L830.3 491.7L832.8 493.3L835 493.7L836.2 497.4L838.7 498.1L841.2 493.1L843.1 491.8L846.2 493.4L848.1 495.9L850.6 494.9L853.7 498.1L855.6 503L858.1 505.2L861.2 501.8L863 504.9L865.9 515.1L869.3 499.9L871.1 498.7L873.6 503L874.9 507.4L876.1 522.1L877.4 521L879.9 507.4L883 511.8L886.1 518L888 518.9L890.5 518.9L892.3 513.6L894.2 506.2L896.1 504.7L897.3 508.6L898.6 521.1L901 527.3L903.3 536.5L904.8 528.6L907.3 524.2L908.7 538L913.6 538L915.4 521.7L917.2 519.9L919.7 524.8L921.6 529.8L923.7 522.1L926 522.1L928.5 526.1L930.3 529.8L932.4 537" fill="none" stroke="#4A7DBF" stroke-width="2.0" stroke-linejoin="round" stroke-linecap="butt" clip-path="url(#c4)"/>
<path d="M544.7 536L547.2 434L548.1 397L548.7 377.3L549.9 359.9L551.2 349.9L553.1 341.2L554.9 338.1L558.7 338.1L560.5 340L563 341L565.5 343.7L568.6 345.2L571.7 347.2L573.6 347.4L576.7 351.2L579.8 352.2L582.3 353.9L586.1 355.9L588.6 358L592.3 358.6L594.8 361.1L597.3 364.6L603.5 365.1L606 368.9L609.8 370.1L612.2 372.1L615.4 372.6L618.5 375.5L622.2 377.3L626.6 378.3L629.7 380.8L633.4 382.9L637.2 384.2L640 384.7L643.1 387.5L646.2 389.7L651.8 390.2L655 394.9L658.1 396.2L663.1 397.2L666.2 399.9L669.9 401.8L673 403.7L677.4 404.3L680.5 407.6L683.6 408.4L686.1 410.1L689.8 410.1L692.3 412.6L696.1 414.3L698.6 415.9L702.9 416.4L706 419.6L707.9 420.1L709.8 422.4L713.5 424.8L718.5 425.5L721.6 427.6L726 428.8L728.5 430.5L732.8 431.7L736.6 434.8L740 434.7L742.5 435L745 440L748.7 441.8L752.5 443.1L758.1 443.1L761.2 447.4L764.9 448.4L766.8 450.5L769.9 451.8L773 448.7L775.5 454.3L777.4 454.9L782.4 454.9L785.5 459.9L788 460.9L791.7 461.1L794.8 463.9L797.9 466.7L803.6 467.1L805.4 468.9L808.5 472.1L811 470.9L812.3 472.1L814.8 468.6L817.3 472.1L819.1 478L821 479.6L829.7 479.6L832.2 478L833.4 479.2L835 486.8L837.5 488.1L839.4 487.2L846.8 486.8L848.1 486L851.2 486.2L853.1 490L855.6 498.1L857.4 498.1L860.5 493.7L864.9 493.4L866.8 498.1L870.5 498.9L872.4 504.9L874.9 510.5L876.1 514.9L878.6 505.5L881.1 504.3L883 511.8L884.8 503L886.7 501.8L889.2 511.1L891.7 521.7L894.8 513.6L897.9 510.5L901 517.4L903.5 524.8L906.6 522.4L909.8 518.9L912.9 518L914.7 520.5L916 518.9L918.5 522.4L920.4 522.1L923.5 527.3L925.3 532.3L927.8 533.6L930.3 532.6L932.8 529.8L934.7 524.8L936.6 518.6L937.8 518L939.7 523L940.9 532.3L941.5 536" fill="none" stroke="#C04D4A" stroke-width="2.0" stroke-linejoin="round" stroke-linecap="butt" clip-path="url(#c4)"/>
<text x="494.11" y="309" font-size="10.9" fill="#595959" textLength="15.19" lengthAdjust="spacingAndGlyphs">0.8</text>
<text x="494.11" y="385" font-size="10.9" fill="#595959" textLength="15.19" lengthAdjust="spacingAndGlyphs">0.4</text>
<text x="503.22" y="461" font-size="10.9" fill="#595959" textLength="6.08" lengthAdjust="spacingAndGlyphs">0</text>
<text x="490.43" y="537" font-size="10.9" fill="#595959" textLength="18.87" lengthAdjust="spacingAndGlyphs">-0.4</text>
<text x="517.66" y="476.8" font-size="10.9" fill="#595959" textLength="6.08" lengthAdjust="spacingAndGlyphs">0</text>
<text x="598.62" y="476.8" font-size="10.9" fill="#595959" textLength="12.16" lengthAdjust="spacingAndGlyphs">10</text>
<text x="682.62" y="476.8" font-size="10.9" fill="#595959" textLength="12.16" lengthAdjust="spacingAndGlyphs">20</text>
<text x="767.62" y="476.8" font-size="10.9" fill="#595959" textLength="12.16" lengthAdjust="spacingAndGlyphs">30</text>
<text x="851.62" y="476.8" font-size="10.9" fill="#595959" textLength="12.16" lengthAdjust="spacingAndGlyphs">40</text>
<text x="935.62" y="476.8" font-size="10.9" fill="#595959" textLength="12.16" lengthAdjust="spacingAndGlyphs">50</text>
<path d="M626 560H651.8" stroke="#4A7DBF" stroke-width="2" stroke-linecap="round"/>
<text x="654.40" y="562.8" font-size="10.9" fill="#595959" textLength="60.42" lengthAdjust="spacingAndGlyphs">AWG14 vert</text>
<path d="M730.3 560H755.8" stroke="#C04D4A" stroke-width="2" stroke-linecap="round"/>
<text x="758.40" y="562.8" font-size="10.9" fill="#595959" textLength="65.38" lengthAdjust="spacingAndGlyphs">AWG14 horiz</text>
<text x="150.40" y="185.9" font-size="13.2" fill="#000" textLength="26.94" lengthAdjust="spacingAndGlyphs">usec</text>
<text x="11.30" y="218.9" font-size="13.2" fill="#000" textLength="50.83" lengthAdjust="spacingAndGlyphs">log scale</text>
<text x="11.30" y="237" font-size="13.2" fill="#000" textLength="170.48" lengthAdjust="spacingAndGlyphs">.4V/decade, 25mV in=0V out</text>
<text x="653.10" y="54.7" font-size="13.2" fill="#000" textLength="114.23" lengthAdjust="spacingAndGlyphs">a_vertical centered</text>
<text x="653.10" y="72.8" font-size="13.2" fill="#000" textLength="204.68" lengthAdjust="spacingAndGlyphs">b_vertical slight offset from center</text>
<text x="653.10" y="90.8" font-size="13.2" fill="#000" textLength="131.31" lengthAdjust="spacingAndGlyphs">C_horizontal centered</text>
</svg></body></html>
